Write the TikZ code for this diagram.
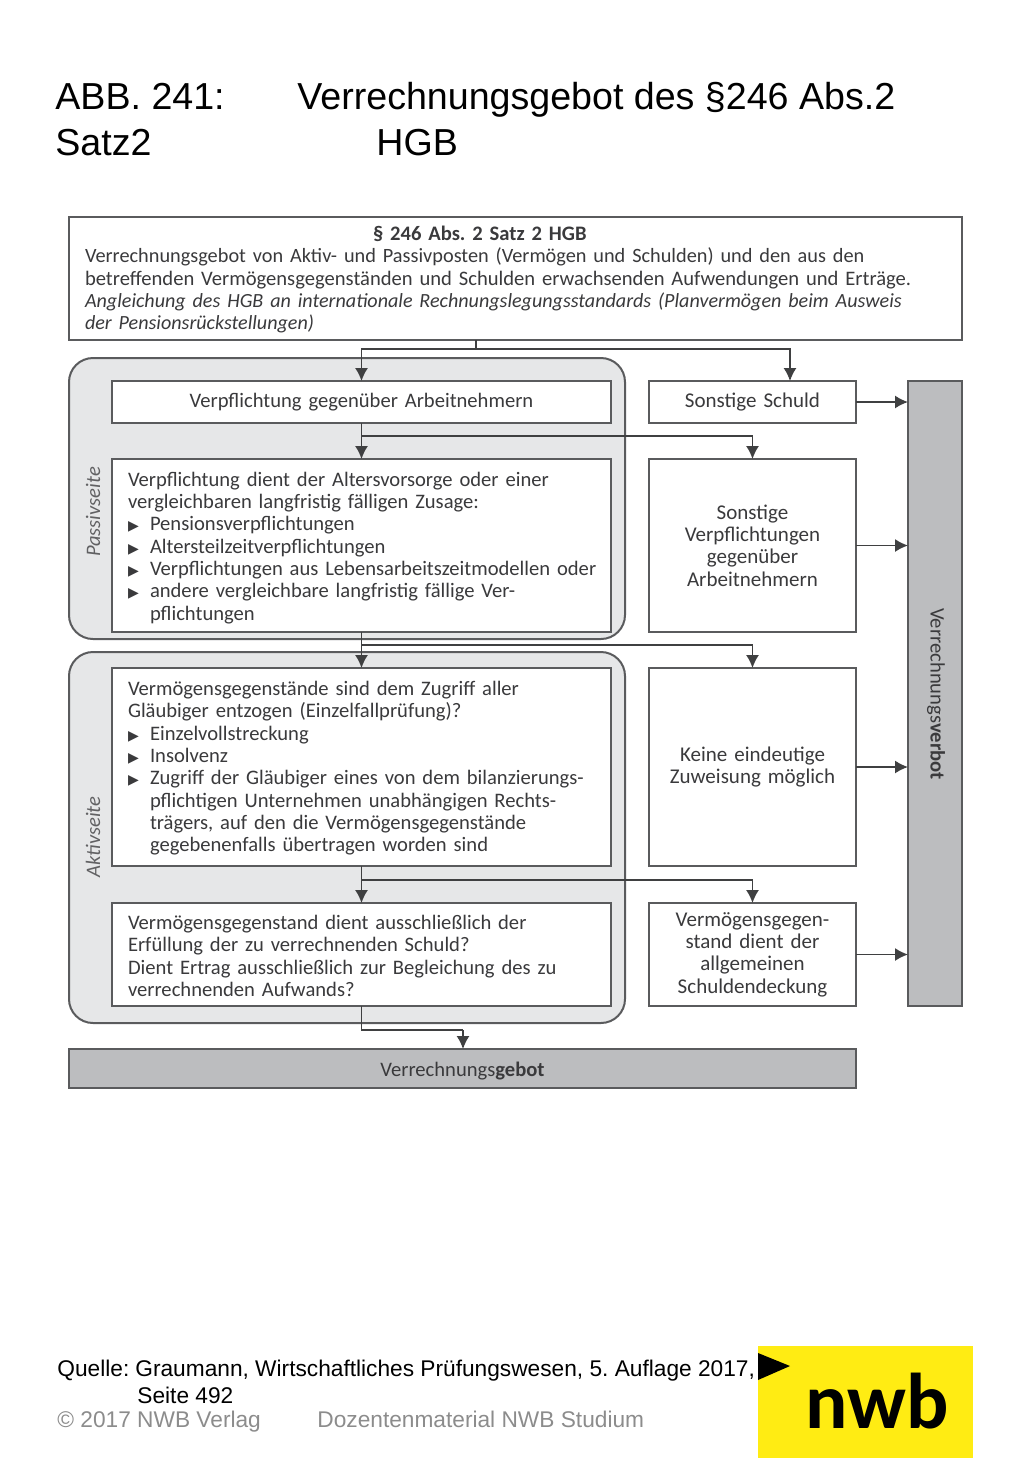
\documentclass[tikz,border=0pt]{standalone}
\usepackage{fontspec}
\setmainfont{Carlito}
\newfontfamily\slidefont{Liberation Sans}
\newfontfamily\markfont{DejaVu Sans}
\usetikzlibrary{arrows.meta}
\frenchspacing
\definecolor{linegray}{HTML}{5A5B5D}
\definecolor{inkgray}{HTML}{3A3A3C}
\definecolor{panelgray}{HTML}{E6E7E8}
\definecolor{bargray}{HTML}{BCBDBF}
\definecolor{footgray}{HTML}{8C8C8C}
\definecolor{nwbyellow}{HTML}{FFEC13}
\newcommand{\blt}{\makebox[11pt][l]{\markfont\fontsize{7}{7}\selectfont ▶}}
\newcommand{\ind}{\hspace*{11pt}}
\tikzset{
    box/.style={draw=linegray, fill=white, line width=1pt, anchor=north west, outer sep=0pt,
        inner xsep=8pt, inner ysep=0pt, text=inkgray, font=\fontsize{10.3}{11.15}\selectfont},
    wide/.style={box, text width=233.5pt, align=left, execute at begin node={\rule{0pt}{8.5pt}}},
    side/.style={box, text width=87.5pt, align=center, font=\fontsize{10.5}{11.15}\selectfont},
    panel/.style={draw=linegray, fill=panelgray, line width=1pt, rounded corners=12pt},
    bar/.style={draw=linegray, fill=bargray, line width=1pt, anchor=north west, outer sep=0pt,
        inner sep=0pt, text=inkgray, align=center, font=\fontsize{10.3}{11.15}\selectfont},
    flow/.style={draw=linegray!70!black, line width=0.75pt, -{Latex[length=6.5pt,width=6.5pt]}},
    stem/.style={draw=linegray!70!black, line width=0.75pt},
    side label/.style={text=inkgray!80, font=\fontsize{10.3}{11.15}\selectfont\itshape, rotate=90},
    slide/.style={anchor=base west, inner sep=0pt, font=\slidefont\fontsize{18.8}{19}\selectfont},
    foot/.style={anchor=base west, inner sep=0pt, font=\slidefont\fontsize{11.35}{11.35}\selectfont}
}
\begin{document}
\begin{tikzpicture}[x=0.5pt, y=-0.5pt]
\useasboundingbox (0,0) rectangle (1024,1479);
% Title
    \node[slide] (titleA) at (55,109) {ABB. 241:};
    \node[slide] (titleB) at (297,109) {Verrechnungsgebot des §246 Abs.2};
    \node[slide] (titleC) at (55,155) {Satz2};
    \node[slide] (titleD) at (376,155) {HGB};
% Panels
    \draw[panel] (69,358) rectangle (625,639);
    \draw[panel] (69,652) rectangle (625,1023);
    \node[side label] (passiv) at (93,512) {Passivseite};
    \node[side label] (aktiv) at (93,837) {Aktivseite};
% Boxes
    \node[box, text width=430.5pt, align=left, minimum height=61.5pt,
        execute at begin node={\rule{0pt}{8.5pt}}] (top) at (69,217)
        {\hspace*{144pt}\textbf{§ 246 Abs. 2 Satz 2 HGB}\\
        {\fontsize{10.15}{11.15}\selectfont Verrechnungsgebot von Aktiv- und Passivposten (Vermögen und Schulden) und den aus den}\\
        betreffenden Vermögensgegenständen und Schulden erwachsenden Aufwendungen und Erträge.\\
        {\fontsize{10.05}{11.15}\selectfont\itshape Angleichung des HGB an internationale Rechnungslegungsstandards (Planvermögen beim Ausweis}\\
        {\fontsize{10.05}{11.15}\selectfont\itshape der Pensionsrückstellungen)}};
    \node[box, text width=233.5pt, align=center, minimum height=21pt] (arbeit) at (112,381)
        {Verpflichtung gegenüber Arbeitnehmern};
    \node[wide, minimum height=86.5pt, execute at begin node={\rule{0pt}{9.5pt}}] (versorge) at (112,459)
        {Verpflichtung dient der Altersvorsorge oder einer\\
        vergleichbaren langfristig fälligen Zusage:\\
        \blt Pensionsverpflichtungen\\
        \blt Altersteilzeitverpflichtungen\\
        \mbox{\blt Verpflichtungen aus Lebensarbeitszeitmodellen oder}\\
        \blt andere vergleichbare langfristig fällige Ver-\\
        \ind pflichtungen};
    \node[wide, minimum height=99pt] (zugriff) at (112,668)
        {Vermögensgegenstände sind dem Zugriff aller\\
        Gläubiger entzogen (Einzelfallprüfung)?\\
        \blt Einzelvollstreckung\\
        \blt Insolvenz\\
        \blt Zugriff der Gläubiger eines von dem bilanzierungs-\\
        \ind pflichtigen Unternehmen unabhängigen Rechts-\\
        \ind trägers, auf den die Vermögensgegenstände\\
        \ind gegebenenfalls übertragen worden sind};
    \node[wide, minimum height=51.5pt] (erfuellung) at (112,903)
        {Vermögensgegenstand dient ausschließlich der\\
        Erfüllung der zu verrechnenden Schuld?\\
        Dient Ertrag ausschließlich zur Begleichung des zu\\
        verrechnenden Aufwands?};
    \node[side, minimum height=21pt] (schuld) at (649,381) {Sonstige Schuld};
    \node[side, minimum height=86.5pt] (sonstige) at (649,459)
        {Sonstige\\Verpflichtungen\\gegenüber\\Arbeitnehmern};
    \node[side, minimum height=99pt] (keine) at (649,668)
        {Keine eindeutige\\Zuweisung möglich};
    \node[side, minimum height=51.5pt] (allgemein) at (649,903)
        {Vermögensgegen-\\stand dient der\\allgemeinen\\Schuldendeckung};
    \node[bar, minimum width=27pt, minimum height=312.5pt] (verbot) at (908,381) {};
    \node[bar, minimum width=393.5pt, minimum height=19.5pt,
        execute at begin node={\rule{0pt}{10pt}}] (gebot) at (69,1049)
        {Verrechnungs\textbf{gebot}};
    \node[text=inkgray, inner sep=0pt, rotate=-90, font=\fontsize{10.3}{11.15}\selectfont] (verbottext) at (936,694)
        {Verrechnungs\textbf{verbot}};
% Turning points
    \coordinate (topA) at (476,349);
    \coordinate (schuldA) at (790,381);
    \coordinate (arbeitA) at (362,436);
    \coordinate (versorgeA) at (362,645);
    \coordinate (zugriffA) at (362,880);
    \coordinate (gebotA) at (463,1030);
% Connectors
    \draw[stem] (top.south -| topA) -- (topA);
    \draw[flow] (topA) -| (arbeit.north);
    \draw[flow] (topA) -| (schuldA);
    \draw[flow] (arbeit.south) -- (versorge.north);
    \draw[flow] (arbeitA) -| (sonstige.north);
    \draw[flow] (versorge.south) -- (zugriff.north);
    \draw[flow] (versorgeA) -| (keine.north);
    \draw[flow] (zugriff.south) -- (erfuellung.north);
    \draw[flow] (zugriffA) -| (allgemein.north);
    \draw[stem] (erfuellung.south) |- (gebotA);
    \draw[flow] (gebotA) -- (gebot.north -| gebotA);
    \draw[flow] (schuld.east) -- (schuld.east -| verbot.west);
    \draw[flow] (sonstige.east) -- (sonstige.east -| verbot.west);
    \draw[flow] (keine.east) -- (keine.east -| verbot.west);
    \draw[flow] (allgemein.east) -- (allgemein.east -| verbot.west);
% Footer
    \node[foot] (quelleA) at (57,1376) {Quelle:};
    \node[foot] (quelleB) at (135,1376) {Graumann, Wirtschaftliches Prüfungswesen, 5. Auflage 2017,};
    \node[foot] (quelleC) at (137,1403) {Seite 492};
    \node[foot, text=footgray] (verlag) at (57,1427) {© 2017 NWB Verlag};
    \node[foot, text=footgray] (material) at (317,1427) {Dozentenmaterial NWB Studium};
% Logo
    \fill[nwbyellow] (758,1346) rectangle (973,1458);
    \fill[black] (758,1353) -- (790,1366) -- (758,1380) -- cycle;
    \node[anchor=base west, inner sep=0pt, font=\bfseries\fontsize{39.5}{39.5}\selectfont] (logo) at (805,1428) {nwb};
\end{tikzpicture}
\end{document}
